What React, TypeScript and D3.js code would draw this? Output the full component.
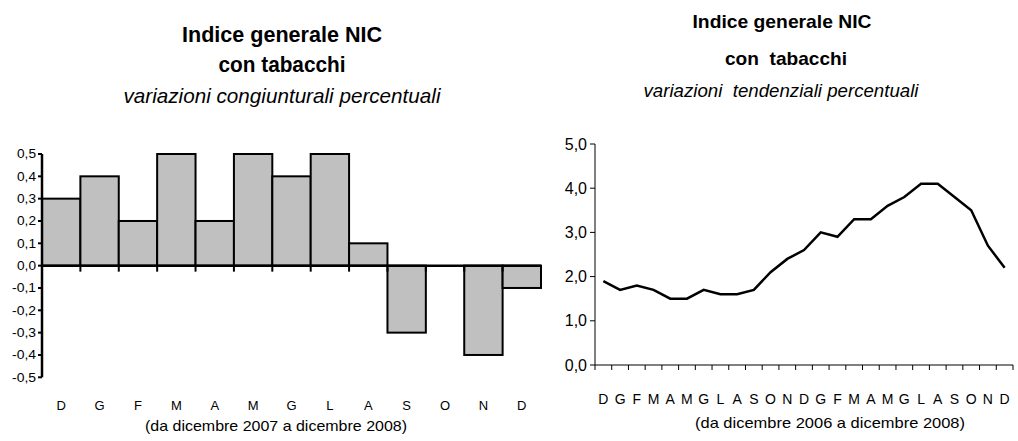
import * as d3 from 'd3';

// left chart: month-on-month % changes, Dec 2007 - Dec 2008
const monthsL = ['D', 'G', 'F', 'M', 'A', 'M', 'G', 'L', 'A', 'S', 'O', 'N', 'D'];
const congiunturali = [0.3, 0.4, 0.2, 0.5, 0.2, 0.5, 0.4, 0.5, 0.1, -0.3, 0.0, -0.4, -0.1];
const ticksL = [0.5, 0.4, 0.3, 0.2, 0.1, 0, -0.1, -0.2, -0.3, -0.4, -0.5];

// right chart: year-on-year % changes, Dec 2006 - Dec 2008
const monthsR = ['D', 'G', 'F', 'M', 'A', 'M', 'G', 'L', 'A', 'S', 'O', 'N',
  'D', 'G', 'F', 'M', 'A', 'M', 'G', 'L', 'A', 'S', 'O', 'N', 'D'];
const tendenziali = [1.9, 1.7, 1.8, 1.7, 1.5, 1.5, 1.7, 1.6, 1.6, 1.7, 2.1, 2.4,
  2.6, 3.0, 2.9, 3.3, 3.3, 3.6, 3.8, 4.1, 4.1, 3.8, 3.5, 2.7, 2.2];
const ticksR = [0, 1, 2, 3, 4, 5];

const FONT = '"Liberation Sans", Arial, sans-serif';
const fmt1 = (v: number) => d3.format('.1f')(v).replace('.', ',').replace('−', '-');

// condensed-looking text: natural size, squeezed to the measured width
function Label({ x, y, txt, size, w, bold = false, italic = false }: {
  x: number; y: number; txt: string; size: number; w: number; bold?: boolean; italic?: boolean;
}) {
  return (
    <text x={x} y={y} textAnchor="middle" fontFamily={FONT} fontSize={size}
      fontWeight={bold ? 'bold' : 'normal'} fontStyle={italic ? 'italic' : 'normal'}
      textLength={w} lengthAdjust="spacingAndGlyphs" style={{ whiteSpace: 'pre' }} fill="#000">
      {txt}
    </text>
  );
}

export default function App() {
  const idxL = monthsL.map((_, i) => i);
  const xL = d3.scaleBand<number>().domain(idxL).range([42, 541]).padding(0);
  const yL = d3.scaleLinear().domain([-0.5, 0.5]).range([377.3, 154]);

  const idxR = monthsR.map((_, i) => i);
  const xR = d3.scaleBand<number>().domain(idxR).range([595, 1013]).padding(0);
  const yR = d3.scaleLinear().domain([0, 5]).range([365, 144]);

  const line = d3.line<number>()
    .x((_, i) => xR(i)! + xR.bandwidth() / 2)
    .y(d => yR(d));

  return (
    <svg width={1018} height={441} style={{ position: 'absolute', left: 0, top: 0, background: '#fff' }}>
      {/* titles */}
      <Label x={282} y={42} txt="Indice generale NIC" size={22} w={200} bold />
      <Label x={282} y={72} txt="con tabacchi" size={22} w={127} bold />
      <Label x={282} y={103} txt="variazioni congiunturali percentuali" size={21} w={317} italic />
      <Label x={782} y={28} txt="Indice generale NIC" size={19} w={179} bold />
      <Label x={786} y={65} txt="con  tabacchi" size={19} w={122} bold />
      <Label x={781} y={97} txt="variazioni  tendenziali percentuali" size={19} w={275} italic />

      {/* left chart: bars */}
      <g>
        {congiunturali.map((v, i) => (
          <rect key={i} x={xL(i)} width={xL.bandwidth()}
            y={yL(Math.max(0, v))} height={Math.abs(yL(v) - yL(0))}
            fill="#c0c0c0" stroke="#000" strokeWidth={2} />
        ))}
      </g>
      {/* left y axis */}
      <g fontFamily={FONT} fontSize={12}>
        <line x1={42} x2={42} y1={yL(0.5)} y2={yL(-0.5)} stroke="#000" strokeWidth={2.5} />
        {ticksL.map(t => (
          <g key={t}>
            <line x1={38} x2={42} y1={yL(t)} y2={yL(t)} stroke="#000" strokeWidth={2} />
            <text x={36} y={yL(t)} dy="0.35em" textAnchor="end" fill="#000"
              textLength={t < 0 ? 24 : 19} lengthAdjust="spacingAndGlyphs">{fmt1(t)}</text>
          </g>
        ))}
      </g>
      {/* left x axis */}
      <g>
        <line x1={42} x2={541} y1={yL(0)} y2={yL(0)} stroke="#000" strokeWidth={2.5} />
        {idxL.slice(1).map(i => (
          <line key={i} x1={xL(i)} x2={xL(i)} y1={yL(0)} y2={yL(0) + 6} stroke="#000" strokeWidth={2} />
        ))}
        {monthsL.map((m, i) => (
          <text key={i} x={xL(i)! + xL.bandwidth() / 2} y={410} textAnchor="middle"
            fontFamily={FONT} fontSize={13} fill="#000">{m}</text>
        ))}
        <Label x={276} y={431} txt="(da dicembre 2007 a dicembre 2008)" size={15} w={262} />
      </g>

      {/* right chart axes */}
      <g fontFamily={FONT}>
        <line x1={595} x2={595} y1={yR(5)} y2={yR(0)} stroke="#000" strokeWidth={1} />
        {ticksR.map(t => (
          <g key={t}>
            <line x1={590} x2={595} y1={yR(t)} y2={yR(t)} stroke="#000" strokeWidth={1} />
            <text x={587} y={yR(t)} dy="0.35em" textAnchor="end" fontSize={16} fill="#000">{fmt1(t)}</text>
          </g>
        ))}
        <line x1={595} x2={1013} y1={yR(0)} y2={yR(0)} stroke="#000" strokeWidth={1} />
        {[...idxR, monthsR.length].map(i => {
          const x = i < monthsR.length ? xR(i)! : 1013;
          return <line key={i} x1={x} x2={x} y1={yR(0)} y2={yR(0) + 5} stroke="#000" strokeWidth={1} />;
        })}
        {monthsR.map((m, i) => (
          <text key={i} x={xR(i)! + xR.bandwidth() / 2} y={404} textAnchor="middle"
            fontSize={14} fill="#000">{m}</text>
        ))}
      </g>
      <Label x={830} y={428} txt="(da dicembre 2006 a dicembre 2008)" size={15} w={270} />
      <path d={line(tendenziali) ?? ''} fill="none" stroke="#000" strokeWidth={2.5} strokeLinejoin="miter" />
    </svg>
  );
}
